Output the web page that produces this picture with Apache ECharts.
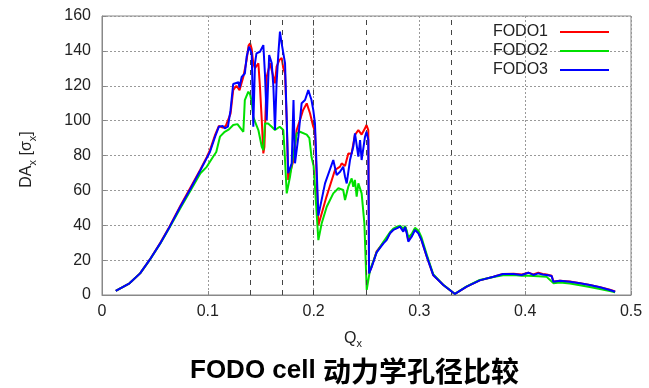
<!DOCTYPE html>
<html>
<head>
<meta charset="utf-8">
<script src="https://cdn.jsdelivr.net/npm/echarts@6/dist/echarts.min.js"></script>
<style>
  html, body { margin: 0; padding: 0; background: #fff; }
  #chart { width: 649px; height: 388px; }
</style>
</head>
<body>
<div id="chart"></div>
<script>
// Dynamic aperture DA_x [sigma_x] versus horizontal tune Q_x for three FODO cells.
// Each series is a list of [Qx, DAx] points.
const seriesNames = ['FODO1', 'FODO2', 'FODO3'];
const seriesColors = ['#ff0000', '#00e000', '#0000ff'];

const fodo1 = [[0.013,2.3],[0.026,6.7],[0.036,12.4],[0.045,20.1],[0.055,29.8],[0.064,39.4],[0.074,51],[0.083,61],[0.093,72],[0.099,79],[0.102,83],[0.107,92],[0.1105,97],[0.114,96],[0.117,97],[0.1215,104],[0.124,117.5],[0.127,120],[0.130,117.5],[0.1336,125.2],[0.1367,134.7],[0.1385,143],[0.140,144.3],[0.1415,141],[0.143,132.9],[0.1446,130],[0.1478,132.9],[0.1493,119.4],[0.151,100.3],[0.1525,81.2],[0.1535,85],[0.1557,125.2],[0.1588,132.9],[0.162,125.2],[0.1635,121.4],[0.165,130.9],[0.1676,134.7],[0.1698,136],[0.1714,130],[0.173,127],[0.1746,100],[0.176,66],[0.1777,67],[0.181,77.4],[0.184,94.6],[0.1871,100.3],[0.190,106],[0.1935,109.9],[0.1966,104.2],[0.1997,96.5],[0.2013,94],[0.2045,40],[0.212,56],[0.2202,71.7],[0.225,73.6],[0.2265,75.5],[0.2297,74],[0.2328,81.2],[0.2359,81],[0.239,91.7],[0.2423,94.6],[0.2454,92],[0.2486,95.6],[0.2500,97.5],[0.2517,94.6],[0.2524,12.4],[0.255,16.5],[0.2596,25],[0.266,30],[0.269,32],[0.2722,35.5],[0.2753,37.5],[0.2785,38.5],[0.2817,39.2],[0.2848,37],[0.2865,39],[0.288,36],[0.2895,31.5],[0.2927,34],[0.2958,37.8],[0.299,36],[0.302,31.5],[0.307,22],[0.313,11.5],[0.3226,5.7],[0.3336,0.6],[0.3447,4.8],[0.357,8.4],[0.370,10.5],[0.379,12],[0.389,12.2],[0.3967,11.8],[0.403,12.8],[0.4077,11.8],[0.4124,12.8],[0.4165,12],[0.4203,11.8],[0.425,11],[0.4266,7.8],[0.4329,8.2],[0.4423,7.8],[0.4518,6.8],[0.461,5.8],[0.4707,4.5],[0.480,3],[0.485,2]];

const fodo2 = [[0.013,2.3],[0.026,6.7],[0.036,12.4],[0.045,20],[0.055,29.4],[0.064,38.8],[0.074,49.8],[0.083,59.2],[0.093,69.8],[0.099,73.5],[0.105,79.3],[0.108,82],[0.1115,90.8],[0.116,93.6],[0.120,95],[0.124,97.5],[0.128,98],[0.1336,93.6],[0.135,111.8],[0.1383,116.6],[0.140,115],[0.1415,110.9],[0.143,102.2],[0.1446,99.4],[0.1478,94.6],[0.151,85],[0.1525,83.1],[0.154,98.4],[0.157,98.4],[0.1604,96.5],[0.1635,94.6],[0.168,96.5],[0.1714,94.6],[0.173,77.4],[0.1746,58.3],[0.1777,67.8],[0.181,81.2],[0.184,92.7],[0.1871,93.6],[0.1935,92],[0.196,90],[0.198,79.3],[0.2,74],[0.2013,62],[0.2045,31.5],[0.2076,41],[0.2124,50.6],[0.2186,58.3],[0.2234,61.2],[0.228,60.2],[0.2297,54.5],[0.2328,62.1],[0.236,66.9],[0.2375,62],[0.239,66],[0.2407,56.4],[0.2423,64],[0.2454,58.3],[0.248,41],[0.2502,2.9],[0.2533,14.3],[0.2596,24.5],[0.266,30.5],[0.2722,36],[0.2753,38],[0.2785,39],[0.2817,39.8],[0.2848,38],[0.2865,39.5],[0.288,37],[0.2895,33],[0.2927,35],[0.2958,38.5],[0.299,37],[0.302,33],[0.307,23],[0.313,12],[0.3226,5.8],[0.3336,0.6],[0.3447,5],[0.357,8.6],[0.370,10.3],[0.379,11.3],[0.389,11.5],[0.3967,11],[0.403,11],[0.4124,10.8],[0.4203,10.4],[0.4266,6.8],[0.4329,7.2],[0.4423,6.6],[0.4518,5.6],[0.461,4.6],[0.4707,3.5],[0.480,2.3],[0.485,1.6]];

const fodo3 = [[0.013,2.3],[0.026,6.7],[0.036,12.4],[0.045,20.1],[0.055,29.6],[0.064,39.2],[0.074,50.6],[0.083,60.2],[0.093,71.5],[0.099,78.5],[0.102,82],[0.107,91],[0.1105,96.5],[0.114,97],[0.116,95.5],[0.119,96.5],[0.1215,106],[0.124,121],[0.129,122],[0.130,119],[0.132,125],[0.135,127],[0.1367,136.6],[0.139,142.4],[0.1415,138.6],[0.143,96.5],[0.1446,133],[0.146,138.6],[0.1493,139.5],[0.1525,143.3],[0.154,127],[0.1557,100.3],[0.158,137.6],[0.1604,133],[0.162,119.4],[0.1635,94.6],[0.165,121.4],[0.1667,138.6],[0.1682,151],[0.1698,144.3],[0.173,133],[0.1746,100.3],[0.176,69.8],[0.1793,75.5],[0.181,111.8],[0.1824,75.5],[0.1856,90.8],[0.1887,110],[0.1919,111.8],[0.195,117.5],[0.198,111.8],[0.1997,106],[0.2013,98.4],[0.2045,45.5],[0.2108,64],[0.2186,77.4],[0.2218,68.8],[0.225,70.7],[0.228,73.6],[0.2297,67.8],[0.2313,64],[0.2344,77.4],[0.2375,85],[0.2391,92.7],[0.2423,79.3],[0.2439,88.9],[0.2454,77.4],[0.2486,90.8],[0.2500,93.6],[0.2517,88.9],[0.2524,12.4],[0.255,16.2],[0.2596,24.5],[0.266,29.6],[0.269,31.5],[0.2722,35.4],[0.2753,37.3],[0.2785,38.2],[0.2817,39.2],[0.2848,36.3],[0.2865,39],[0.288,35.4],[0.2895,30.6],[0.2927,33.4],[0.2958,37.3],[0.299,35.4],[0.302,31.5],[0.307,22],[0.313,11.5],[0.3226,5.7],[0.3336,0.6],[0.3447,4.8],[0.357,8.4],[0.370,10.5],[0.379,12],[0.389,12],[0.3967,11.5],[0.403,12.8],[0.4077,11.5],[0.4124,12.4],[0.4165,11.8],[0.4203,11.5],[0.425,10.9],[0.4266,7.6],[0.4329,8.2],[0.4423,7.6],[0.4518,6.7],[0.461,5.7],[0.4707,4.4],[0.480,2.9],[0.485,1.9]];

// Resonance tunes 1/7, 1/6, 1/5, 1/4, 1/3 marked with dashed lines
const resonanceQ = [1 / 7, 1 / 6, 1 / 5, 1 / 4, 1 / 3];

const xTicks = { min: 0, max: 0.5, interval: 0.1 };
const yTicks = { min: 0, max: 160, interval: 20 };

const latin = '"Liberation Sans", Arial, sans-serif';
const cjk = '"Noto Sans CJK SC", sans-serif';

const chart = echarts.init(document.getElementById('chart'), null, { renderer: 'canvas' });

const seriesData = [fodo1, fodo2, fodo3];

const series = seriesNames.map((name, i) => ({
  name: name,
  type: 'line',
  data: seriesData[i],
  showSymbol: false,
  symbol: 'none',
  color: seriesColors[i],
  lineStyle: { width: 2, color: seriesColors[i] },
  z: 3 + i,
  animation: false
}));

series.unshift({
  name: 'resonances',
  type: 'line',
  data: [],
  silent: true,
  z: 2,
  markLine: {
    silent: true,
    symbol: 'none',
    label: { show: false },
    animation: false,
    lineStyle: { color: '#444', width: 1, type: [5, 5] },
    emphasis: { disabled: true },
    data: resonanceQ.map(q => ({ xAxis: q }))
  }
});

chart.setOption({
  animation: false,
  backgroundColor: '#ffffff',
  grid: {
    left: 102, top: 16, right: 18, bottom: 93,
    show: true, borderColor: '#888', borderWidth: 1
  },
  legend: {
    data: seriesNames,
    orient: 'vertical',
    align: 'right',
    right: 35,
    top: 19,
    itemWidth: 49,
    itemHeight: 2,
    itemGap: 3,
    icon: 'rect',
    textStyle: { fontSize: 16, color: '#222', fontFamily: latin, padding: [0, 7, 0, 0] }
  },
  xAxis: {
    type: 'value',
    min: xTicks.min, max: xTicks.max, interval: xTicks.interval,
    name: 'Q{sub|x}',
    nameLocation: 'middle',
    nameGap: 34,
    nameTextStyle: {
      fontSize: 16, color: '#222', fontFamily: latin, lineHeight: 20,
      padding: [0, 27, 0, 0],
      rich: {
        sub: { fontSize: 11, color: '#222', fontFamily: latin, verticalAlign: 'bottom', lineHeight: 11 }
      }
    },
    axisLine: { show: true, lineStyle: { color: '#888' } },
    axisTick: { show: true, inside: true, length: 4, lineStyle: { color: '#888' } },
    axisLabel: { fontSize: 16, color: '#222', fontFamily: latin, margin: 9 },
    splitLine: { show: true, lineStyle: { color: '#999', type: [2, 2], width: 1 } }
  },
  yAxis: {
    type: 'value',
    min: yTicks.min, max: yTicks.max, interval: yTicks.interval,
    name: 'DA{sub|x} [σ{sub|x}]',
    nameLocation: 'middle',
    nameRotate: 90,
    nameGap: 64,
    nameTextStyle: {
      fontSize: 16, color: '#222', fontFamily: latin, lineHeight: 22,
      padding: [0, 8, 0, 0],
      rich: {
        sub: { fontSize: 11, color: '#222', fontFamily: latin, verticalAlign: 'bottom', lineHeight: 11 }
      }
    },
    axisLine: { show: true, lineStyle: { color: '#888' } },
    axisTick: { show: true, inside: true, length: 4, lineStyle: { color: '#888' } },
    axisLabel: { fontSize: 16, color: '#222', fontFamily: latin, margin: 11 },
    splitLine: { show: true, lineStyle: { color: '#999', type: [2, 2], width: 1 } }
  },
  graphic: [{
    type: 'text',
    left: 190,
    top: 357,
    style: {
      text: '{a|FODO cell }{b|动力学孔径比较}',
      rich: {
        a: { fontSize: 26, fontWeight: 'bold', fontFamily: latin, fill: '#000' },
        b: { fontSize: 28, fontWeight: 'bold', fontFamily: cjk, fill: '#000' }
      }
    }
  }],
  series: series
});
</script>
</body>
</html>
